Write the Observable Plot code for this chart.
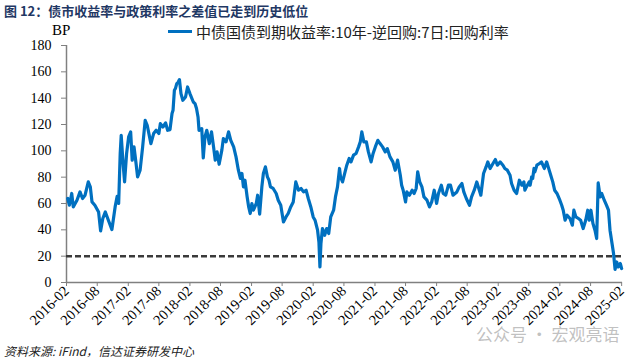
<!DOCTYPE html>
<html><head><meta charset="utf-8">
<script src="https://cdn.jsdelivr.net/npm/d3@7"></script>
<script src="https://cdn.jsdelivr.net/npm/@observablehq/plot@0.6"></script>
<style>
body{margin:0;background:#fff;}
#wrap{position:relative;width:640px;height:361px;overflow:hidden;background:#fff;}
#title{position:absolute;left:4px;top:1px;font:bold 13px "Noto Sans CJK SC",sans-serif;color:#1f3864;white-space:nowrap;}
#bp{position:absolute;left:52px;top:22px;font:15px "Liberation Serif",serif;color:#000;}
#legend{position:absolute;left:168px;top:21px;font:15px "Noto Sans CJK SC",sans-serif;color:#222;white-space:nowrap;display:flex;align-items:center;}
#legend span.sw{display:inline-block;width:24px;height:3px;background:#0070C0;margin-right:4px;}
#chart{position:absolute;left:0;top:30px;}
#caption{position:absolute;left:4px;top:342px;font:italic 12px "Noto Sans CJK SC",sans-serif;color:#222;white-space:nowrap;}
#wm{position:absolute;left:476px;top:321px;font:17px "Noto Sans CJK SC",sans-serif;color:rgba(140,140,140,0.55);white-space:nowrap;}
</style></head>
<body>
<div id="wrap">
  <div id="title">图 12：债市收益率与政策利率之差值已走到历史低位</div>
  <div id="bp">BP</div>
  <div id="legend"><span class="sw"></span>中债国债到期收益率:10年-逆回购:7日:回购利率</div>
  <div id="chart"></div>
  <div id="wm">公众号 · 宏观亮语</div>
  <div id="caption">资料来源: iFind，信达证券研发中心</div>
</div>
<script>
const dates = [
"2016-02-08","2016-02-18","2016-03-03","2016-03-12","2016-04-03","2016-04-21","2016-05-06","2016-05-21","2016-06-09","2016-06-21",
"2016-07-01","2016-07-18","2016-08-09","2016-08-21","2016-09-03","2016-09-18","2016-10-06","2016-10-27","2016-11-15","2016-11-27",
"2016-12-06","2016-12-15","2016-12-21","2017-01-01","2017-01-10","2017-01-22","2017-02-03","2017-02-15","2017-02-24","2017-03-07",
"2017-03-19","2017-03-28","2017-04-12","2017-04-27","2017-05-12","2017-05-24","2017-06-03","2017-06-15","2017-07-01","2017-07-16",
"2017-08-01","2017-08-10","2017-08-25","2017-09-10","2017-09-22","2017-10-06","2017-10-18","2017-10-24","2017-11-01","2017-11-07",
"2017-11-15","2017-11-21","2017-12-01","2017-12-10","2017-12-21","2018-01-06","2018-01-18","2018-02-01","2018-02-21","2018-03-03",
"2018-03-12","2018-03-21","2018-03-27","2018-04-12","2018-04-21","2018-05-01","2018-05-12","2018-05-27","2018-06-09","2018-06-21",
"2018-07-01","2018-07-12","2018-07-24","2018-08-09","2018-08-18","2018-09-03","2018-09-18","2018-10-01","2018-10-18","2018-11-01",
"2018-11-15","2018-11-27","2018-12-06","2018-12-15","2018-12-24","2019-01-06","2019-01-15","2019-01-24","2019-02-03","2019-02-12",
"2019-03-01","2019-03-09","2019-03-21","2019-04-03","2019-04-12","2019-04-24","2019-05-06","2019-05-15","2019-05-24","2019-06-09",
"2019-06-27","2019-07-09","2019-07-24","2019-08-09","2019-08-24","2019-09-06","2019-09-21","2019-10-06","2019-10-21","2019-11-06",
"2019-11-21","2019-12-06","2019-12-21","2020-01-03","2020-01-18","2020-02-01","2020-02-12","2020-02-27","2020-03-06","2020-03-12",
"2020-03-18","2020-03-27","2020-04-09","2020-04-21","2020-05-03","2020-05-15","2020-06-01","2020-06-12","2020-06-24","2020-07-06",
"2020-07-12","2020-07-24","2020-08-03","2020-08-18","2020-09-01","2020-09-12","2020-09-27","2020-10-12","2020-10-27","2020-11-06",
"2020-11-15","2020-11-27","2020-12-12","2020-12-24","2021-01-09","2021-01-21","2021-02-03","2021-02-18","2021-03-03","2021-03-18",
"2021-04-03","2021-04-15","2021-05-01","2021-05-18","2021-06-01","2021-06-15","2021-07-01","2021-07-09","2021-07-18","2021-08-01",
"2021-08-09","2021-08-24","2021-09-09","2021-09-21","2021-10-03","2021-10-12","2021-10-24","2021-11-06","2021-11-18","2021-12-06",
"2021-12-21","2022-01-03","2022-01-18","2022-02-01","2022-02-12","2022-03-01","2022-03-12","2022-03-27","2022-04-12","2022-04-24",
"2022-05-09","2022-06-01","2022-06-15","2022-07-01","2022-07-12","2022-07-27","2022-08-15","2022-08-27","2022-09-12","2022-09-27",
"2022-10-12","2022-10-21","2022-11-06","2022-11-21","2022-12-01","2022-12-15","2023-01-01","2023-01-15","2023-01-27","2023-02-12",
"2023-03-01","2023-03-12","2023-03-27","2023-04-12","2023-04-21","2023-05-06","2023-05-21","2023-06-06","2023-06-21","2023-07-03",
"2023-07-09","2023-07-18","2023-08-03","2023-08-09","2023-08-18","2023-08-24","2023-09-01","2023-09-06","2023-09-18","2023-10-03",
"2023-10-15","2023-11-01","2023-11-15","2023-11-24","2023-12-09","2023-12-21","2024-01-01","2024-01-15","2024-02-01","2024-02-12",
"2024-02-21","2024-03-03","2024-03-15","2024-04-01","2024-04-15","2024-04-24","2024-05-06","2024-05-21","2024-06-03","2024-06-18",
"2024-07-03","2024-07-15","2024-07-24","2024-08-03","2024-08-15","2024-08-27","2024-09-06","2024-09-15","2024-09-27","2024-10-06",
"2024-10-21","2024-11-03","2024-11-15","2024-11-24","2024-12-06","2024-12-15","2024-12-24","2025-01-03","2025-01-12","2025-01-24",
"2025-02-01"
];
const spreadBP = [
63.8,58.7,67.6,57.4,62.5,68.8,63.8,66.3,76.4,72.6,
61.2,58.7,53.6,39.2,48.6,53.6,47.3,40.2,57.4,65.5,
60,98,111.8,90.4,76.4,98,110.6,114.4,92.9,103,
90.4,80.2,85.3,103,123.2,119.4,113.1,105.5,113.1,115.6,
113.1,120.7,118.1,121.2,115.6,116.1,128.3,130.8,146,147.3,
151.1,151.6,154.1,143.5,138.4,140.9,148.5,143.5,137.1,135.9,
132.1,125.7,115.6,116.9,94.6,110.6,115.6,105.5,114.4,103,
92.9,99.2,89.8,100.5,109.3,106.8,114.4,108,103,95.4,
85.3,79,82.8,72.6,77.7,65,57.4,52.4,60,54.9,
60,66.3,51.9,72.6,82.8,87.8,80.2,77.7,72.6,71.4,
67.6,62.5,58.7,46,49.8,52.4,57.4,61.2,76.4,70.1,
71.4,68.8,70.1,63.8,57.4,49.8,47.3,39.7,30.8,11.8,
29.6,41,35.9,41,37.2,49.8,54.9,65,72.6,86.6,
80.2,76.4,81.5,89.1,94.2,91.6,96.7,98,103,106.8,
114.4,106.8,106.8,99.2,91.6,98,103,108,105.5,103,
99.2,101.7,95.4,91.6,85.3,92.9,81.5,73.9,70.1,61.2,
68.8,66.3,70.1,67.6,71.4,84,76.4,72.6,65,62.5,
57.4,61.2,70.1,60,67.6,73.9,67.6,66.3,73.9,73.9,
66.3,68.8,72.6,75.2,68.8,63.8,58.7,65,70.1,76.4,
70.1,66.3,82.8,87.8,91.6,86.6,90.4,93.4,89.1,91.6,
89.1,86.6,85.3,81.5,75.2,70.1,67.6,77.7,73.9,76.4,
70.1,72.6,76.4,73.9,80.2,79,86.6,84,89.1,90.4,
91.6,86.6,91.6,87.8,81.5,76.4,70.1,67.6,62.5,58.7,
54.9,47.3,51.1,48.6,43.5,54.9,49.8,48.6,47.3,41,
47.3,54.9,47.3,54.9,44.8,39.7,33.4,75.6,65,67.6,
62.5,58.7,54.9,39.7,29.6,22,9.9,15.6,11.8,14.4,
10.6
];
const xTickLabels = ["2016-02","2016-08","2017-02","2017-08","2018-02","2018-08","2019-02","2019-08","2020-02","2020-08",
"2021-02","2021-08","2022-02","2022-08","2023-02","2023-08","2024-02","2024-08","2025-02"];
const yTicks = [0,20,40,60,80,100,120,140,160,180];
const refLine = [20];

const parse = d3.utcParse("%Y-%m-%d");
const data = dates.map((d,i)=>({date: parse(d), value: spreadBP[i]}));
const xTicks = xTickLabels.map(s=>parse(s+"-01"));
const xDomain = [xTicks[0], parse("2025-02-06")];

const chart = Plot.plot({
  width: 640, height: 310,
  marginLeft: 66, marginRight: 18, marginTop: 15, marginBottom: 58,
  style: {fontFamily: "'Liberation Serif', serif", fontSize: "14px", color: "#000", background: "transparent"},
  x: {type: "utc", domain: xDomain},
  y: {domain: [0, 180]},
  marks: [
    Plot.ruleX([xDomain[0]], {y1: 0, y2: 180, stroke: "#808080", strokeWidth: 1.5}),
    Plot.ruleY([0], {stroke: "#808080", strokeWidth: 1.5}),
    Plot.axisY(yTicks, {tickSize: 5, tickPadding: 10, stroke: "#808080", fill: "#000", fontSize: 14, label: null}),
    Plot.axisX(xTicks, {tickSize: 4, tickPadding: 2, tickRotate: -45, tickFormat: d3.utcFormat("%Y-%m"), stroke: "#808080", fill: "#000", fontSize: 14.5, label: null}),
    Plot.ruleY(refLine, {x1: xDomain[0], x2: xDomain[1], stroke: "#3a3a3a", strokeWidth: 2.5, strokeDasharray: "6,3"}),
    Plot.lineY(data, {x: "date", y: "value", stroke: "#0070C0", strokeWidth: 3.2, strokeLinejoin: "round"})
  ]
});
document.getElementById("chart").appendChild(chart);
</script>
</body></html>
